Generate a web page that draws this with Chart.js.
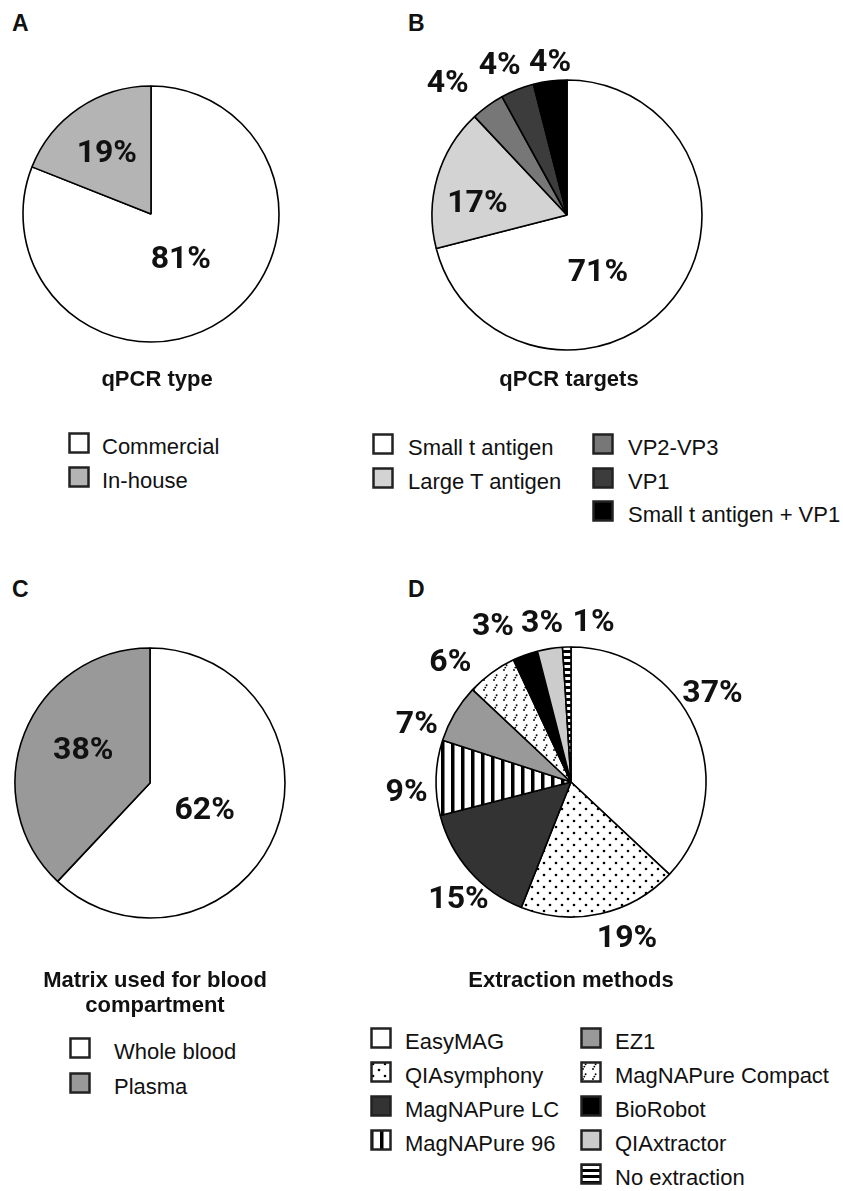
<!DOCTYPE html>
<html><head><meta charset="utf-8">
<script src="https://cdn.jsdelivr.net/npm/chart.js@4.4.0/dist/chart.umd.min.js"></script>
<style>
html,body{margin:0;padding:0;background:#fff;}
body{width:843px;height:1191px;position:relative;overflow:hidden;font-family:"Liberation Sans",Arial,sans-serif;color:#111;}
canvas.pie{position:absolute;}
.t{position:absolute;font-weight:bold;font-size:22px;line-height:25px;white-space:nowrap;text-align:center;width:400px;}
.letter{position:absolute;font-weight:bold;font-size:23px;line-height:26px;}
.leg{position:absolute;font-size:22px;line-height:22px;white-space:nowrap;}
canvas.sw{position:absolute;}
</style></head><body>
<script>
// ---- data ----
const qpcrTypeLabels = ['Commercial', 'In-house'];
const qpcrTypeValues = [81, 19];
const qpcrTargetLabels = ['Small t antigen', 'Large T antigen', 'VP2-VP3', 'VP1', 'Small t antigen + VP1'];
const qpcrTargetValues = [71, 17, 4, 4, 4];
const matrixLabels = ['Whole blood', 'Plasma'];
const matrixValues = [62, 38];
const extractionLabels = ['EasyMAG', 'QIAsymphony', 'MagNAPure LC', 'MagNAPure 96', 'EZ1', 'MagNAPure Compact', 'BioRobot', 'QIAxtractor', 'No extraction'];
const extractionValues = [37, 19, 15, 9, 7, 6, 3, 3, 1];

// ---- fills (colours / patterns) ----
function makePattern(ctx, kind) {
  const t = document.createElement('canvas');
  const g = t.getContext('2d');
  if (kind === 'dots') {
    t.width = 12; t.height = 12;
    g.fillStyle = '#fff'; g.fillRect(0, 0, 12, 12);
    g.fillStyle = '#000';
    [[3, 3], [9, 9]].forEach(([x, y]) => { g.beginPath(); g.arc(x, y, 1.3, 0, Math.PI * 2); g.fill(); });
  } else if (kind === 'vstripes') {
    t.width = 10; t.height = 2;
    g.fillStyle = '#fff'; g.fillRect(0, 0, 10, 2);
    g.fillStyle = '#000'; g.fillRect(0, 0, 3.5, 2);
  } else if (kind === 'hstripes') {
    t.width = 2; t.height = 6;
    g.fillStyle = '#fff'; g.fillRect(0, 0, 2, 6);
    g.fillStyle = '#000'; g.fillRect(0, 0, 2, 3);
  } else if (kind === 'dashes') {
    t.width = 10; t.height = 10;
    g.fillStyle = '#fff'; g.fillRect(0, 0, 10, 10);
    g.fillStyle = '#000';
    [[3, 8], [4.3, 5.6], [5.6, 3.2]].forEach(([x, y]) => { g.beginPath(); g.arc(x, y, 0.95, 0, Math.PI * 2); g.fill(); });
  }
  return ctx.createPattern(t, 'repeat');
}
function resolveFill(ctx, f) {
  return f.startsWith('#') ? f : makePattern(ctx, f);
}

const panels = [
  { letter: 'A', labels: qpcrTypeLabels, values: qpcrTypeValues,
    fills: ['#ffffff', '#b4b4b4'],
    cx: 151, cy: 214, r: 128,
    labR: [0.42, 0.59], labShift: [0.5, -1.6],
    letterPos: [12, 10], title: ['qPCR type'], titleX: 157, titleTop: 366,
    legCols: [68], legRows: [0, 1], legCol: [0, 0], legY0: 447, legDy: 34, legTx: 34 },
  { letter: 'B', labels: qpcrTargetLabels, values: qpcrTargetValues,
    fills: ['#ffffff', '#d3d3d3', '#777777', '#3c3c3c', '#000000'],
    cx: 567, cy: 215, r: 135,
    labR: [0.48, 0.67, 1.32, 1.22, 1.14], labShift: [23.7, -8.6, -6, -2.5, 0.9],
    letterPos: [408, 10], title: ['qPCR targets'], titleX: 569, titleTop: 366,
    legCols: [372, 592], legRows: [0, 1, 0, 1, 2], legCol: [0, 0, 1, 1, 1], legY0: 448, legDy: 33.5, legTx: 36 },
  { letter: 'C', labels: matrixLabels, values: matrixValues,
    fills: ['#ffffff', '#999999'],
    cx: 150, cy: 783, r: 135,
    labR: [0.45, 0.55], labShift: [4.4, 4.4],
    letterPos: [12, 576], title: ['Matrix used for blood', 'compartment'], titleX: 155, titleTop: 967,
    legCols: [69], legRows: [0, 1], legCol: [0, 0], legY0: 1052, legDy: 35, legTx: 45 },
  { letter: 'D', labels: extractionLabels, values: extractionValues,
    fills: ['#ffffff', 'dots', '#333333', 'vstripes', '#999999', 'dashes', '#000000', '#cccccc', 'hstripes'],
    cx: 571, cy: 782, r: 135,
    labR: [1.24, 1.23, 1.2, 1.22, 1.22, 1.26, 1.29, 1.2, 1.2],
    labShift: [-8.9, -7.1, -4.6, -5.3, -10, -9.2, -6.8, -1.3, 9.8],
    letterPos: [408, 576], title: ['Extraction methods'], titleX: 571, titleTop: 967,
    legCols: [370, 580], legRows: [0, 1, 2, 3, 0, 1, 2, 3, 4], legCol: [0, 0, 0, 0, 1, 1, 1, 1, 1], legY0: 1042, legDy: 34, legTx: 35 }
];

const labelPlugin = {
  id: 'pctLabels',
  afterDatasetsDraw(chart, args, opts) {
    const ctx = chart.ctx;
    const meta = chart.getDatasetMeta(0);
    const vals = chart.data.datasets[0].data;
    ctx.save();
    ctx.font = 'bold 32px Roboto, "Liberation Sans", sans-serif';
    ctx.fillStyle = '#111';
    ctx.textAlign = 'center';
    ctx.textBaseline = 'middle';
    meta.data.forEach((arc, i) => {
      const p = arc.getProps(['x', 'y', 'startAngle', 'endAngle', 'outerRadius'], true);
      const a = (p.startAngle + p.endAngle) / 2 + opts.shift[i] * Math.PI / 180;
      const d = p.outerRadius * opts.rad[i];
      ctx.fillText(vals[i] + '%', p.x + Math.cos(a) * d, p.y + Math.sin(a) * d + 1);
    });
    ctx.restore();
  }
};

const SIZE = 420;
panels.forEach(p => {
  // letter
  const L = document.createElement('div');
  L.className = 'letter'; L.textContent = p.letter;
  L.style.left = p.letterPos[0] + 'px'; L.style.top = p.letterPos[1] + 'px';
  document.body.appendChild(L);
  // pie canvas
  const cv = document.createElement('canvas');
  cv.className = 'pie';
  cv.width = SIZE; cv.height = SIZE;
  cv.style.width = SIZE + 'px'; cv.style.height = SIZE + 'px';
  cv.style.left = (p.cx - SIZE / 2) + 'px'; cv.style.top = (p.cy - SIZE / 2) + 'px';
  document.body.appendChild(cv);
  const ctx = cv.getContext('2d');
  new Chart(cv, {
    type: 'pie',
    data: { labels: p.labels, datasets: [{
      data: p.values,
      backgroundColor: p.fills.map(f => resolveFill(ctx, f)),
      borderColor: '#000', borderWidth: 1.6, radius: p.r
    }] },
    options: {
      responsive: false, animation: false, events: [],
      layout: { padding: 0 },
      plugins: { legend: { display: false }, tooltip: { enabled: false },
        pctLabels: { rad: p.labR, shift: p.labShift } }
    },
    plugins: [labelPlugin]
  });
  // title
  const T = document.createElement('div');
  T.className = 't';
  T.innerHTML = p.title.join('<br>');
  T.style.left = (p.titleX - 200) + 'px'; T.style.top = p.titleTop + 'px';
  document.body.appendChild(T);
  // legend
  p.labels.forEach((lab, i) => {
    const x = p.legCols[p.legCol[i]];
    const cy = p.legY0 + p.legRows[i] * p.legDy;
    const sw = document.createElement('canvas');
    sw.className = 'sw'; sw.width = 22; sw.height = 22;
    sw.style.left = x + 'px'; sw.style.top = (cy - 15) + 'px';
    document.body.appendChild(sw);
    const g = sw.getContext('2d');
    g.fillStyle = resolveFill(g, p.fills[i]);
    g.fillRect(1, 1, 20, 20);
    g.strokeStyle = '#222'; g.lineWidth = 2.5;
    g.strokeRect(1.5, 1.5, 19, 19);
    const tx = document.createElement('div');
    tx.className = 'leg'; tx.textContent = lab;
    tx.style.left = (x + p.legTx) + 'px'; tx.style.top = (cy - 11) + 'px';
    document.body.appendChild(tx);
  });
});
</script>
</body></html>
